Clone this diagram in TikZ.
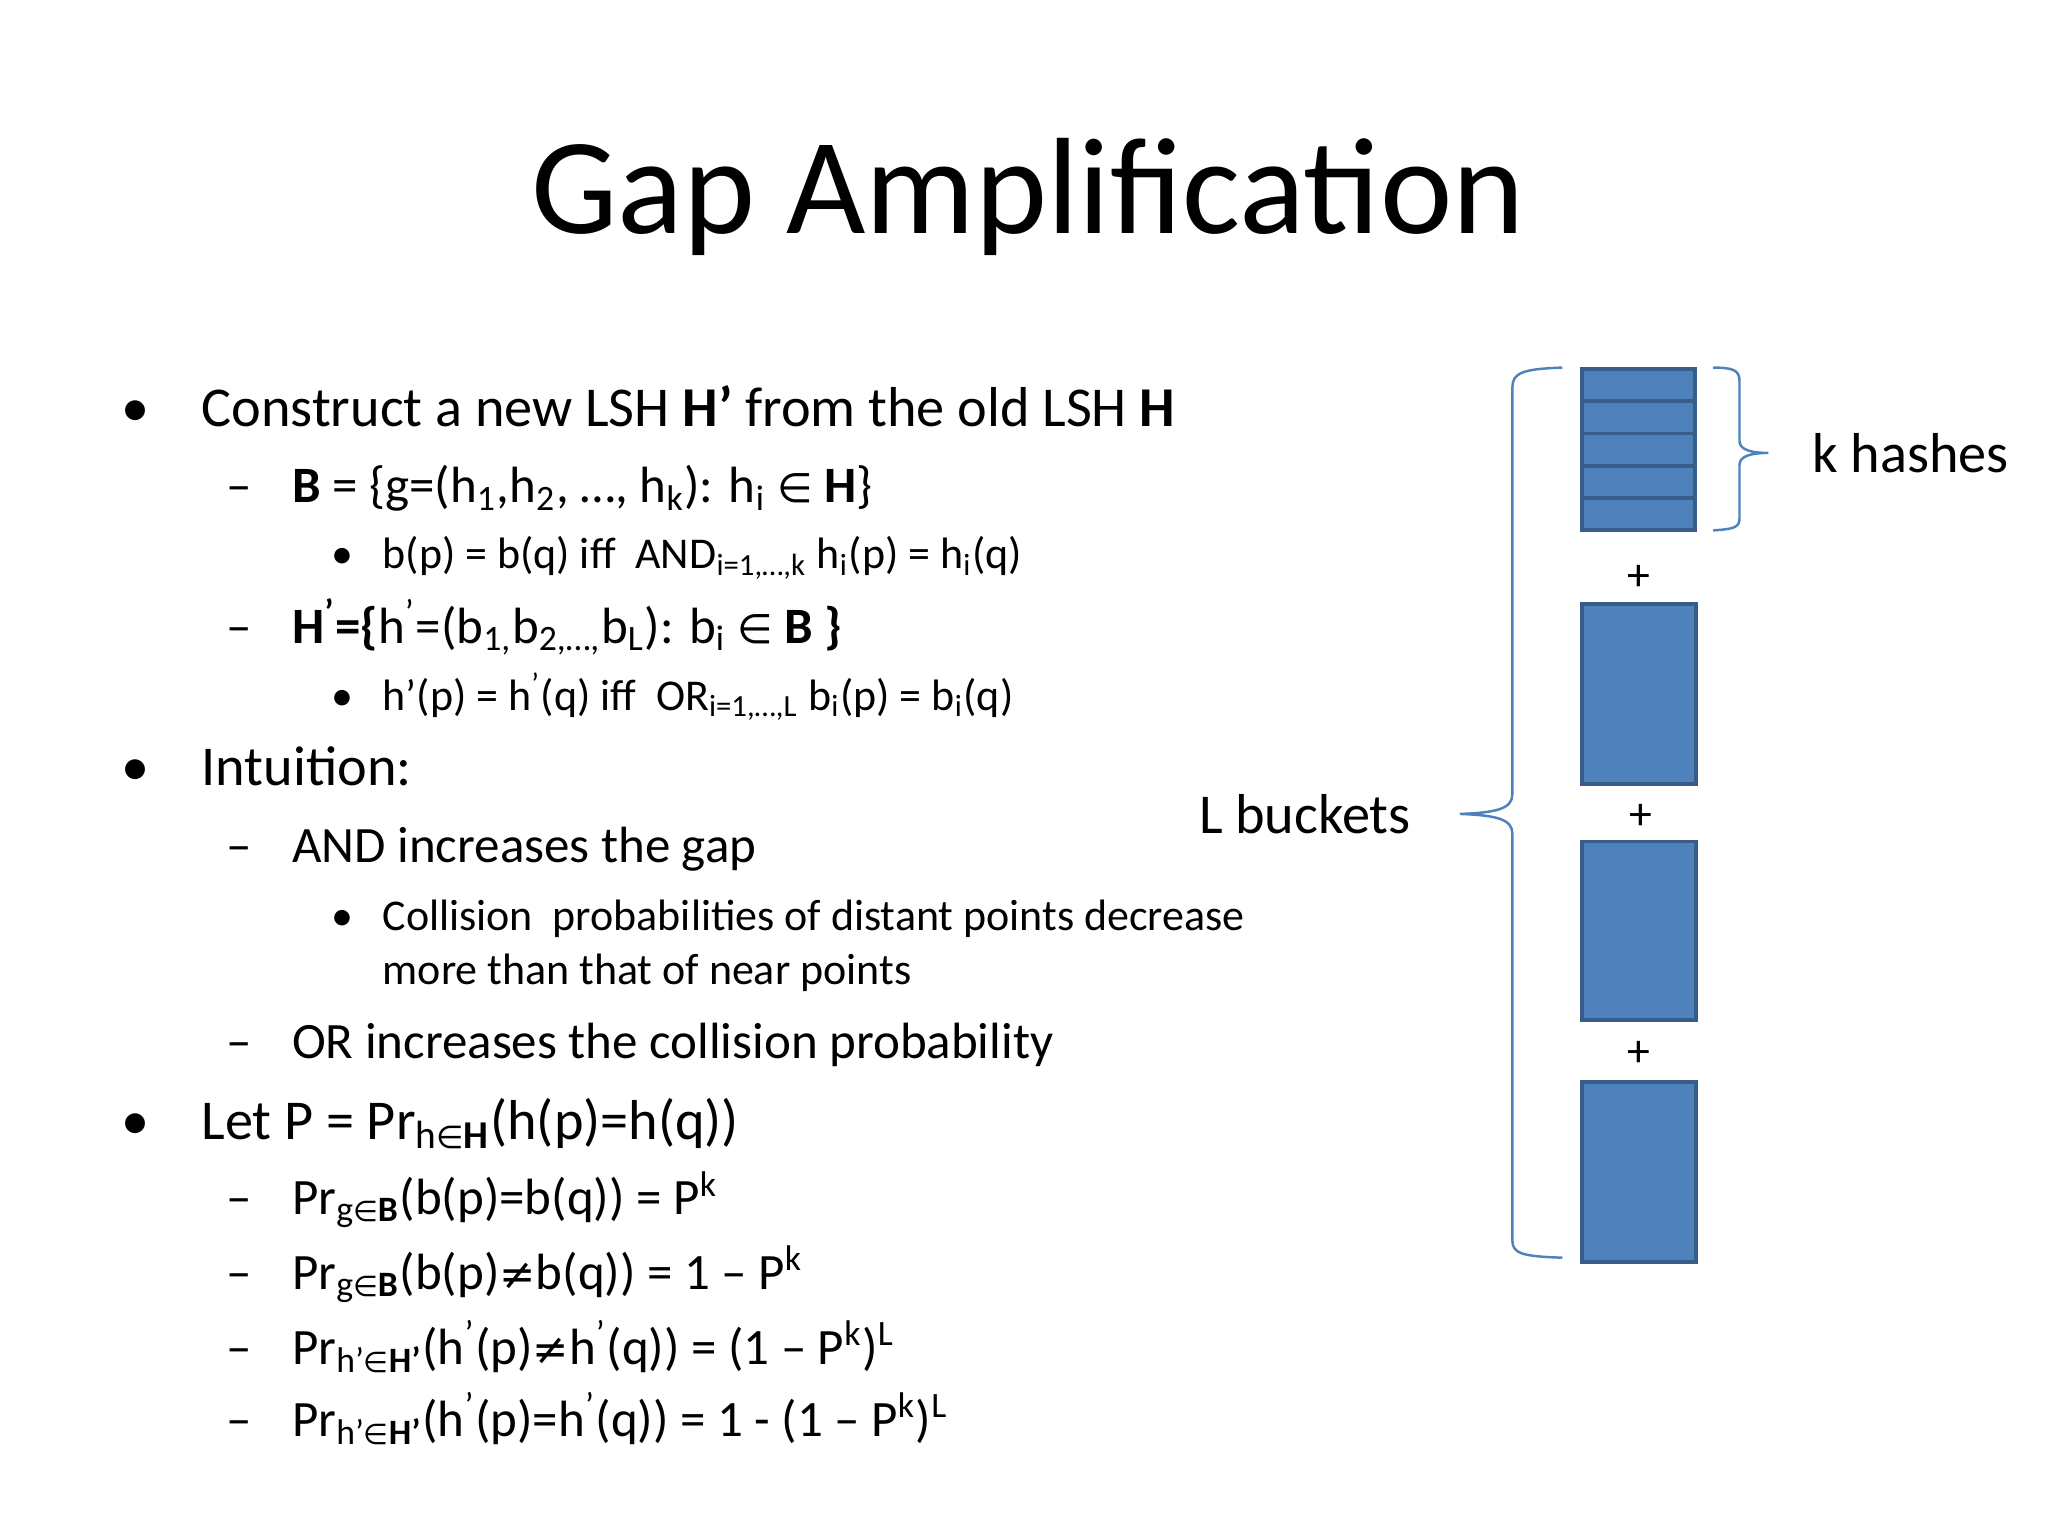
\documentclass[tikz,border=0pt]{standalone}
\usepackage{fontspec}
\setmainfont{Carlito}
\newfontfamily\dv{DejaVu Sans}
\newcommand{\elt}{{\dv\scalebox{0.8}{∈}}}
\newcommand{\nq}{{\dv\scalebox{0.85}{≠}}}
\newcommand{\sbs}[1]{\textsubscript{#1}}
\newcommand{\sps}[1]{\textsuperscript{#1}}
\begin{document}
\begin{tikzpicture}[x=0.01313cm,y=-0.01313cm,
  la/.style={anchor=base west,inner sep=0,font=\fontsize{16}{19}\selectfont},
  lb/.style={anchor=base west,inner sep=0,font=\fontsize{14.5}{17}\selectfont},
  lc/.style={anchor=base west,inner sep=0,font=\fontsize{12.5}{15}\selectfont},
  blk/.style={fill=blue!50!cyan!40!black!0,fill={rgb,255:red,79;green,129;blue,189},draw={rgb,255:red,56;green,93;blue,138},line width=1.1pt},
  brc/.style={draw={rgb,255:red,79;green,129;blue,189},line width=0.7pt},
  pl/.style={font=\fontsize{13}{15}\selectfont}]
\useasboundingbox (0,0) rectangle (1560,1170);
\node[font=\fontsize{39}{44}\selectfont] (title) at (783,150) {Gap Amplification};
% bullets
\foreach \y/\n in {325/a,598/b,868/c} \node[la] (bul\n) at (92,\y) {•};
\node[la] (t1) at (153,325) {Construct a new LSH \textbf{H’} from the old LSH \textbf{H}};
\foreach \y/\n in {383/a,490/b,657/c,806/d,925/e,982/f,1039/g,1094/h} \node[lb] (d\n) at (172,\y) {–};
\node[lb] (t2) at (222,383) {\textbf{B} = \{g=(h\sbs{1},h\sbs{2}, …, h\sbs{k}): h\sbs{i} \elt{} \textbf{H}\}};
\foreach \y/\n in {433/a,541/b,709/c} \node[lc] (s\n) at (252,\y) {•};
\node[lc] (t3) at (291,433) {b(p) = b(q) iff\ \ AND\sbs{i=1,…,k} h\sbs{i}(p) = h\sbs{i}(q)};
\node[lb] (t4) at (222,490) {\textbf{H\sps{’}=\{}h\sps{’}=(b\sbs{1,}b\sbs{2,…,}b\sbs{L}): b\sbs{i} \elt{} \textbf{B \}}};
\node[lc] (t5) at (291,541) {h’(p) = h\sps{’}(q) iff\ \ OR\sbs{i=1,…,L} b\sbs{i}(p) = b\sbs{i}(q)};
\node[la] (t6) at (153,598) {Intuition:};
\node[lb] (t7) at (222,657) {AND increases the gap};
\node[lc] (t8) at (291,709) {Collision\ \ probabilities of distant points decrease};
\node[lc] (t9) at (291,750) {more than that of near points};
\node[lb] (t10) at (222,806) {OR increases the collision probability};
\node[la] (t11) at (153,868) {Let P = Pr\sbs{h\elt\textbf{H}}(h(p)=h(q))};
\node[lb] (t12) at (222,925) {Pr\sbs{g\elt\textbf{B}}(b(p)=b(q)) = P\sps{k}};
\node[lb] (t13) at (222,982) {Pr\sbs{g\elt\textbf{B}}(b(p)\nq b(q)) = 1 – P\sps{k}};
\node[lb] (t14) at (222,1039) {Pr\sbs{h’\elt\textbf{H’}}(h\sps{’}(p)\nq h\sps{’}(q)) = (1 – P\sps{k})\sps{L}};
\node[lb] (t15) at (222,1094) {Pr\sbs{h’\elt\textbf{H’}}(h\sps{’}(p)=h\sps{’}(q)) = 1 - (1 – P\sps{k})\sps{L}};
% boxes
\foreach \i in {0,...,4} \draw[blk] (1205,{281+\i*24.6}) rectangle (1291,{281+(\i+1)*24.6});
\draw[blk] (1205,460) rectangle (1292,597);
\draw[blk] (1205,641) rectangle (1292,777);
\draw[blk] (1205,824) rectangle (1292,961);
\node[pl] (p1) at (1248,440) {+};
\node[pl] (p2) at (1250,622) {+};
\node[pl] (p3) at (1248,803) {+};
% braces
\draw[brc] (1190,280) .. controls (1160,281) and (1152,284) .. (1152,295) -- (1152,605) .. controls (1152,616) and (1140,619) .. (1112,620)
  .. controls (1140,621) and (1152,624) .. (1152,635) -- (1152,945) .. controls (1152,955) and (1160,957) .. (1190,958);
\draw[brc] (1305,280) .. controls (1320,280) and (1325,282) .. (1325,290) -- (1325,336) .. controls (1325,343) and (1335,345) .. (1347,345)
  .. controls (1335,345) and (1325,347) .. (1325,354) -- (1325,395) .. controls (1325,402) and (1320,403) .. (1305,404);
\node[la,anchor=west] (kh) at (1380,345) {k hashes};
\node[la,anchor=east] (lb) at (1075,620) {L buckets};
\end{tikzpicture}
\end{document}
